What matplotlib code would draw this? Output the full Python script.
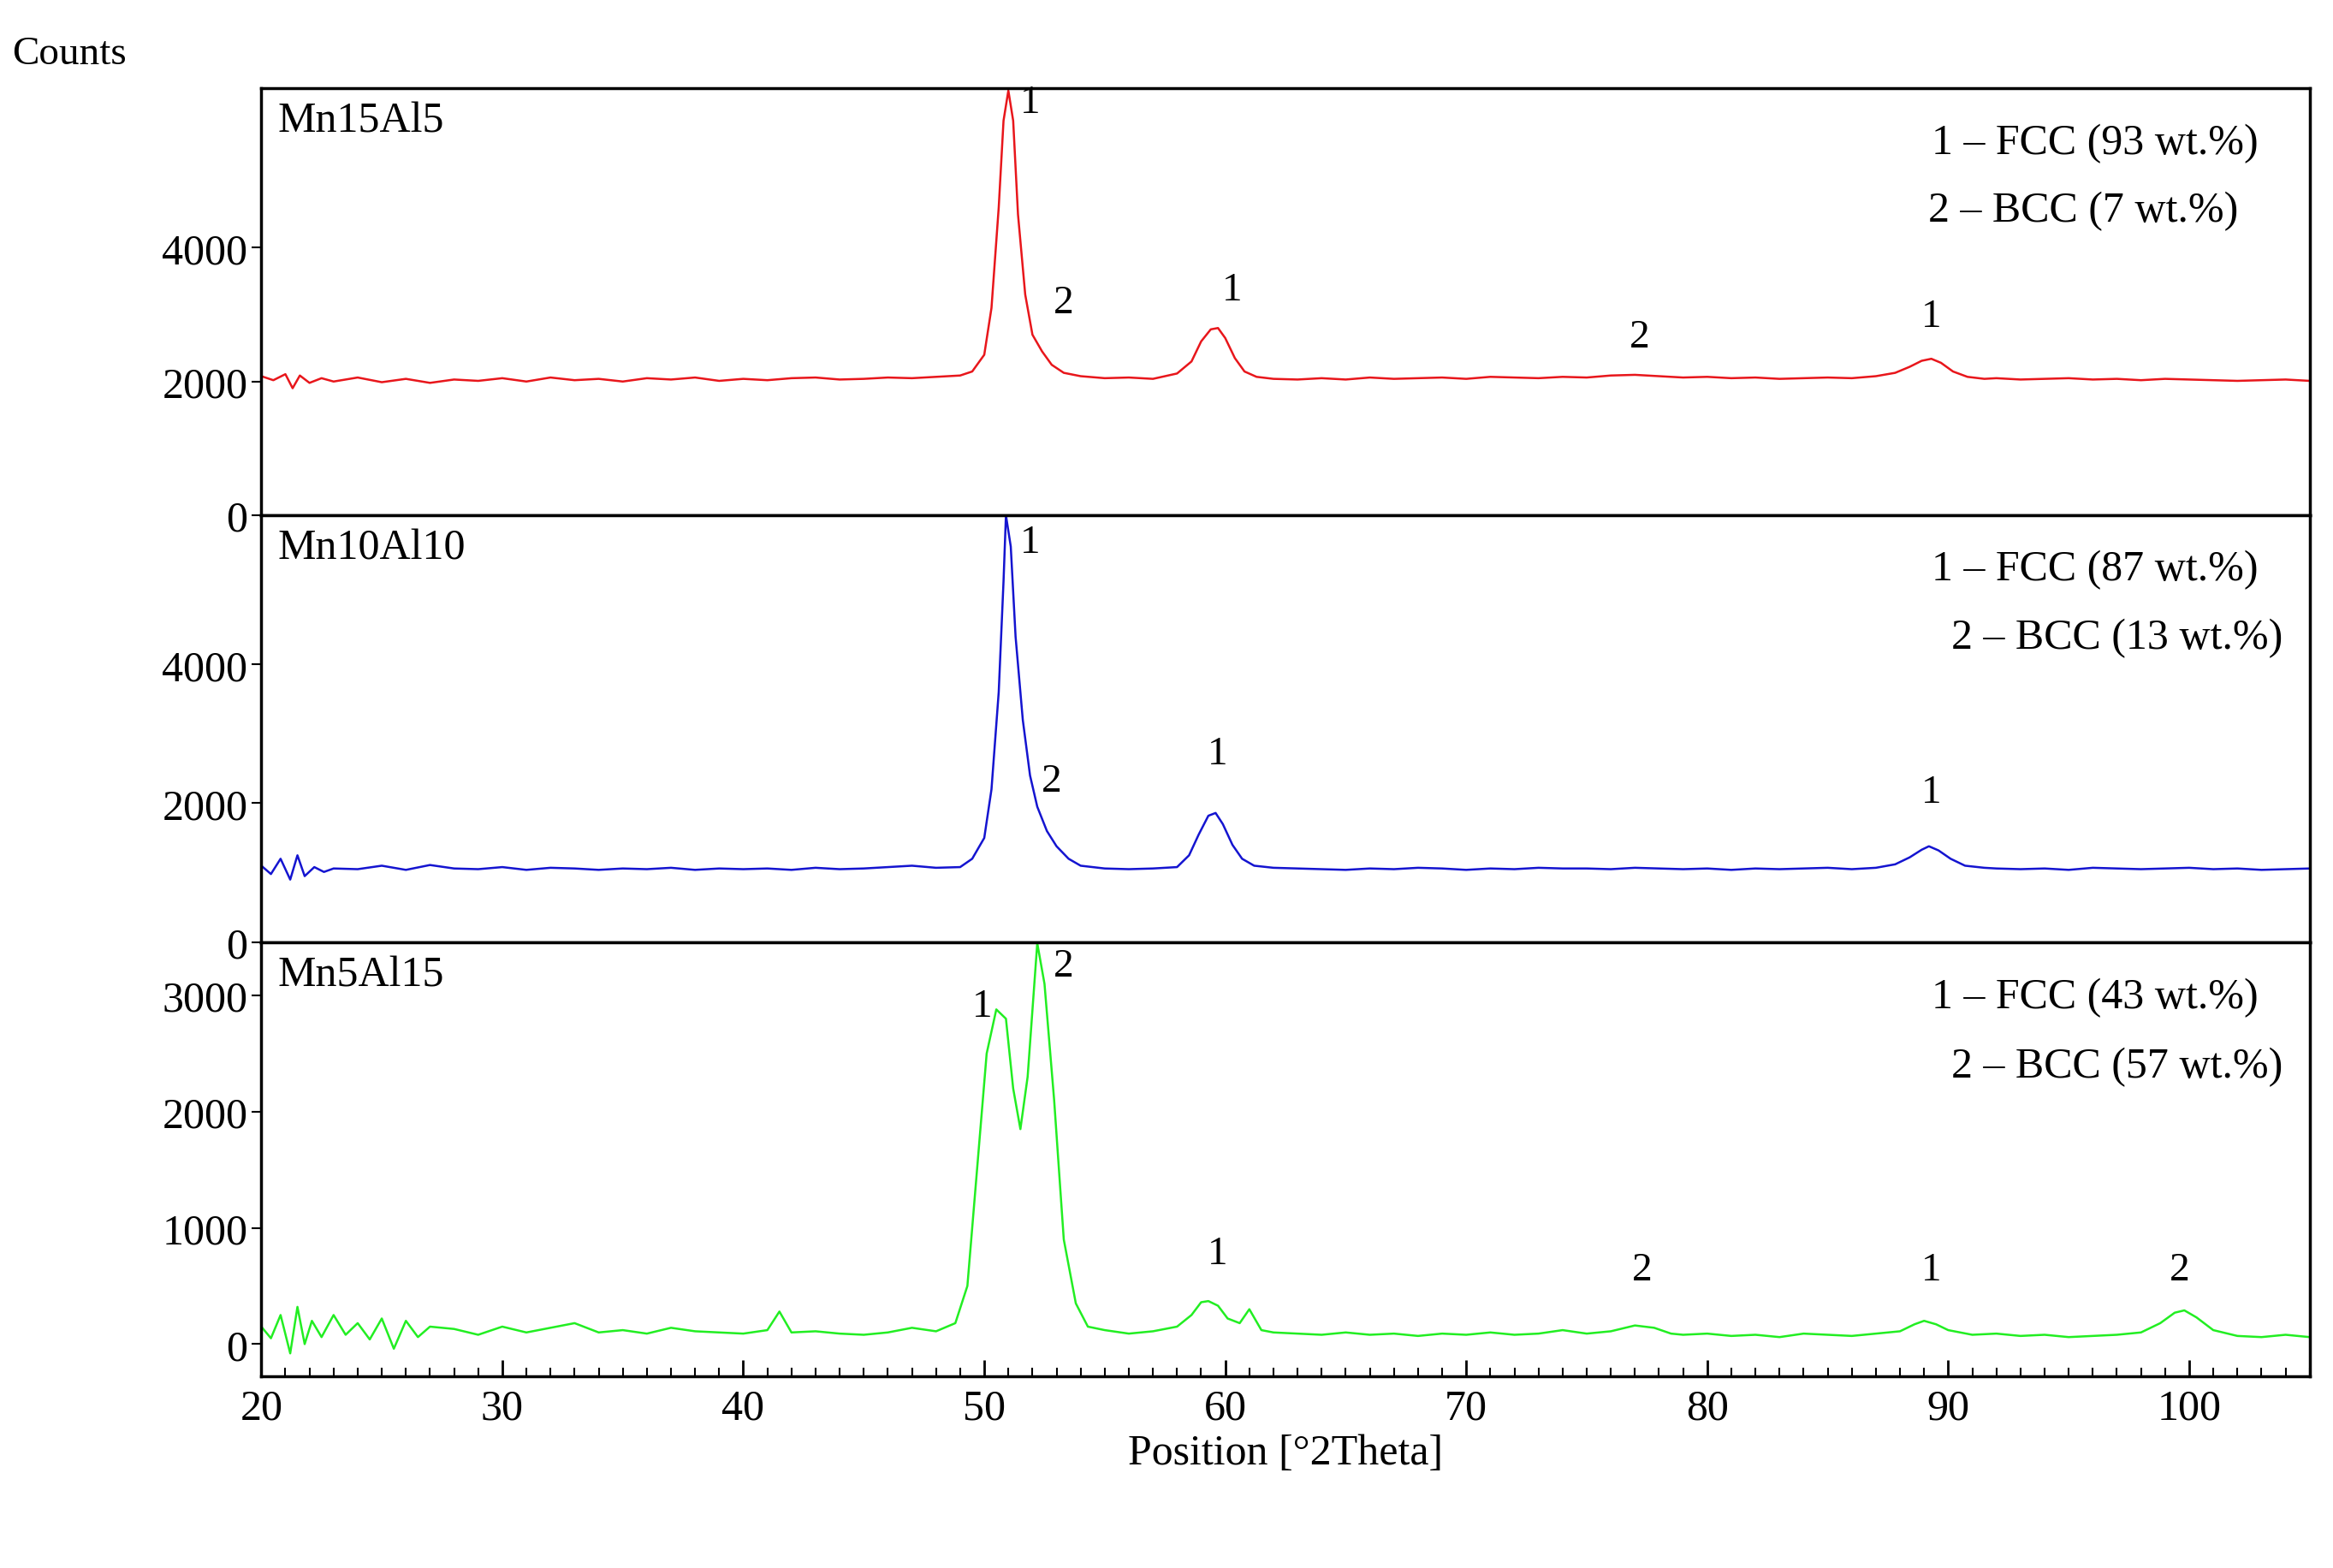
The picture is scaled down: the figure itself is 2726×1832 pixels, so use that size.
import matplotlib
matplotlib.use("Agg")
import matplotlib.pyplot as plt
from matplotlib.ticker import MultipleLocator

plt.rcParams['font.family'] = ['Liberation Serif', 'DejaVu Serif']

# Mn15Al5 (red)
x1 = [20,20.5,21,21.3,21.6,22,22.5,23,24,25,26,27,28,29,30,31,32,33,34,35,36,37,38,39,40,41,42,43,44,45,46,47,48,49,49.5,50,50.3,50.6,50.8,51.0,51.2,51.4,51.7,52.0,52.4,52.8,53.3,54,55,56,57,58,58.6,59.0,59.4,59.7,60.0,60.4,60.8,61.3,62,63,64,65,66,67,68,69,70,71,72,73,74,75,76,77,78,79,80,81,82,83,84,85,86,87,87.8,88.4,88.9,89.3,89.7,90.2,90.8,91.5,92,93,94,95,96,97,98,99,100,101,102,103,104,105]
y1 = [2080,2020,2110,1900,2090,1980,2050,2000,2060,1990,2040,1980,2030,2010,2050,2000,2060,2020,2040,2000,2050,2030,2060,2010,2040,2020,2050,2060,2030,2040,2060,2050,2070,2090,2150,2400,3100,4600,5900,6350,5900,4500,3300,2700,2450,2250,2130,2080,2050,2060,2040,2120,2300,2600,2780,2800,2650,2350,2150,2070,2040,2030,2050,2030,2060,2040,2050,2060,2040,2070,2060,2050,2070,2060,2090,2100,2080,2060,2070,2050,2060,2040,2050,2060,2050,2080,2130,2220,2310,2340,2280,2150,2070,2040,2050,2030,2040,2050,2030,2040,2020,2040,2030,2020,2010,2020,2030,2010]

# Mn10Al10 (blue)
x2 = [20,20.4,20.8,21.2,21.5,21.8,22.2,22.6,23,24,25,26,27,28,29,30,31,32,33,34,35,36,37,38,39,40,41,42,43,44,45,46,47,48,49,49.5,50,50.3,50.6,50.8,50.9,51.1,51.3,51.6,51.9,52.2,52.6,53,53.5,54,55,56,57,58,58.5,58.9,59.3,59.6,59.9,60.3,60.7,61.2,62,63,64,65,66,67,68,69,70,71,72,73,74,75,76,77,78,79,80,81,82,83,84,85,86,87,87.8,88.4,88.9,89.2,89.6,90.1,90.7,91.5,92,93,94,95,96,97,98,99,100,101,102,103,104,105]
y2 = [1100,980,1200,900,1250,950,1080,1010,1060,1050,1100,1040,1110,1060,1050,1080,1040,1070,1060,1040,1060,1050,1070,1040,1060,1050,1060,1040,1070,1050,1060,1080,1100,1070,1080,1200,1500,2200,3600,5200,6150,5700,4400,3200,2400,1950,1600,1380,1200,1100,1060,1050,1060,1080,1250,1550,1820,1860,1700,1400,1200,1100,1070,1060,1050,1040,1060,1050,1070,1060,1040,1060,1050,1070,1060,1060,1050,1070,1060,1050,1060,1040,1060,1050,1060,1070,1050,1070,1120,1220,1330,1380,1320,1200,1100,1070,1060,1050,1060,1040,1070,1060,1050,1060,1070,1050,1060,1040,1050,1060]

# Mn5Al15 (green)
x3 = [20,20.4,20.8,21.2,21.5,21.8,22.1,22.5,23,23.5,24,24.5,25,25.5,26,26.5,27,
      28,29,30,31,32,33,34,35,36,37,38,39,40,41,41.5,42,43,44,45,46,47,48,
      48.8,49.3,49.7,50.1,50.5,50.9,51.2,51.5,51.8,52.2,52.5,52.9,53.3,53.8,54.3,
      55,56,57,58,58.6,59.0,59.3,59.7,60.1,60.6,61,61.5,
      62,63,64,65,66,67,68,69,70,71,72,73,74,75,76,77,77.8,78.5,79,
      80,81,82,83,84,85,86,87,88,88.6,89.0,89.5,90,
      91,92,93,94,95,96,97,98,98.8,99.4,99.8,100.3,101,102,103,104,105]
y3 = [150,50,250,-80,320,0,200,60,250,80,180,40,220,-40,200,60,150,
      130,80,150,100,140,180,100,120,90,140,110,100,90,120,280,100,110,90,80,100,140,110,
      180,500,1500,2500,2880,2800,2200,1850,2300,3450,3100,2100,900,350,150,
      120,90,110,150,250,360,370,330,220,180,300,120,
      100,90,80,100,80,90,70,90,80,100,80,90,120,90,110,160,140,90,80,
      90,70,80,60,90,80,70,90,110,170,200,170,120,
      80,90,70,80,60,70,80,100,180,270,290,230,120,70,60,80,60]

ylims = [(0, 6380), (0, 6150), (-280, 3460)]
yticks = [[0, 2000, 4000], [0, 2000, 4000], [0, 1000, 2000, 3000]]
names = ["Mn15Al5", "Mn10Al10", "Mn5Al15"]
legends = [("1 – FCC (93 wt.%)", "2 – BCC (7 wt.%)"),
           ("1 – FCC (87 wt.%)", "2 – BCC (13 wt.%)"),
           ("1 – FCC (43 wt.%)", "2 – BCC (57 wt.%)")]
colors = ["#e8161b", "#1414d0", "#22ee22"]
labels = [[(51.9, 5900, "1"), (53.3, 2900, "2"), (60.3, 3100, "1"), (77.2, 2400, "2"), (89.3, 2700, "1")],
          [(51.9, 5500, "1"), (52.8, 2050, "2"), (59.7, 2450, "1"), (89.3, 1900, "1")],
          [(49.9, 2750, "1"), (53.3, 3100, "2"), (59.7, 620, "1"), (77.3, 480, "2"), (89.3, 480, "1"), (99.6, 480, "2")]]
xs = [x1, x2, x3]
ys = [y1, y2, y3]

fig = plt.figure(figsize=(27.26, 18.33), dpi=100)
bounds = [(0.671, 0.943), (0.399, 0.671), (0.122, 0.399)]
fs = 36
for i in range(3):
    b, t = bounds[i]
    ax = fig.add_axes([0.112, b, 0.878, t - b])
    n = min(len(xs[i]), len(ys[i]))
    ax.plot(xs[i][:n], ys[i][:n], color=colors[i], lw=1.8)
    ax.set_xlim(20, 105)
    ax.set_ylim(*ylims[i])
    ax.set_yticks(yticks[i])
    ax.tick_params(axis='y', labelsize=fs, direction='out', length=8, width=1.5)
    ax.xaxis.set_major_locator(MultipleLocator(10))
    ax.xaxis.set_minor_locator(MultipleLocator(1))
    if i < 2:
        ax.tick_params(axis='x', which='both', bottom=False, labelbottom=False)
    else:
        ax.tick_params(axis='x', which='major', direction='in', length=14, width=2, labelsize=fs, pad=10)
        ax.tick_params(axis='x', which='minor', direction='in', length=7, width=1.5)
        ax.set_xlabel("Position [°2Theta]", fontsize=fs)
    for s in ax.spines.values():
        s.set_linewidth(2.5)
    ax.text(0.008, 0.97, names[i], transform=ax.transAxes, fontsize=fs, va='top', ha='left')
    ax.text(0.975, 0.92, legends[i][0], transform=ax.transAxes, fontsize=fs, va='top', ha='right')
    ax.text(0.987 if i else 0.965, 0.76, legends[i][1], transform=ax.transAxes, fontsize=fs, va='top', ha='right')
    for (lx, ly, lt) in labels[i]:
        ax.text(lx, ly, lt, fontsize=fs - 2, ha='center', va='bottom')

fig.text(0.005, 0.965, "Counts", fontsize=fs - 2, ha='left', va='center')
fig.savefig("out.png", dpi=100)
